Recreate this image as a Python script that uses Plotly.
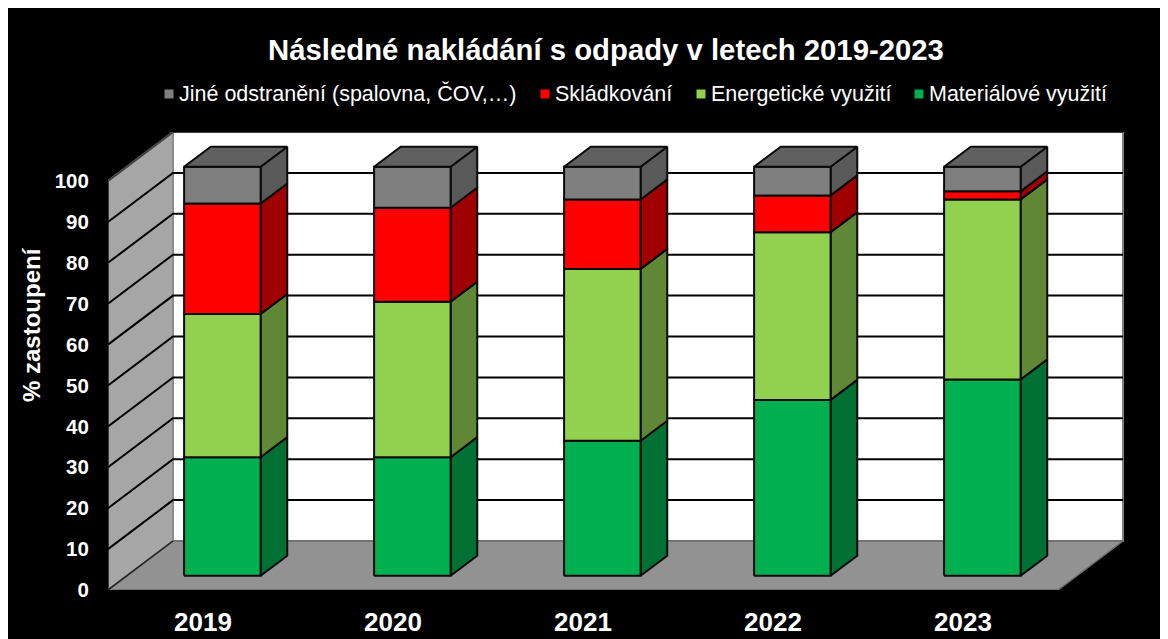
import plotly.graph_objects as go

years = ["2019", "2020", "2021", "2022", "2023"]
series_names = ["Materiálové využití", "Energetické využití", "Skládkování", "Jiné odstranění (spalovna, ČOV,…)"]
material = [29, 29, 33, 43, 48]
energy = [35, 38, 42, 41, 44]
landfill = [27, 23, 17, 9, 2]
other = [9, 10, 8, 7, 6]
y_ticks = list(range(0, 101, 10))

front_colors = ["#00B050", "#92D050", "#FF0000", "#7F7F7F"]
side_colors = ["#007033", "#5F8735", "#A00000", "#595959"]
top_color = "#606060"
EDGE = "#0A0A0A"

W, H, OFF = 1168, 639, 8
L, R, T, B = 108, 1124, 132, 590
PX_PER_CAT = 190.0
PX_PER_UNIT = 4.09
DX = 65 / PX_PER_CAT   # depth offset in category units
DY = 49 / PX_PER_UNIT  # depth offset in value units
X_MIN = -0.5
X_MAX = X_MIN + (R - L) / PX_PER_CAT
Y_MAX = (B - T) / PX_PER_UNIT
Z1, Z2 = 0.29, 0.70
BAR_W = 76.5 / PX_PER_CAT
BAR_SHIFT = 0.5 / PX_PER_CAT


def proj(x, v, z):
    return x + z * DX, v + z * DY


fig = go.Figure()


def poly(points, fill, line=EDGE, width=2, name=None):
    pts = list(points) + [points[0]]
    fig.add_trace(go.Scatter(
        x=[p[0] for p in pts], y=[p[1] for p in pts], mode="lines",
        fill="toself", fillcolor=fill, line=dict(color=line, width=width),
        hoverinfo="skip" if name is None else "name", name=name or "", showlegend=False))


def seg(points, color, width=2):
    fig.add_trace(go.Scatter(
        x=[p[0] for p in points], y=[p[1] for p in points], mode="lines",
        line=dict(color=color, width=width), hoverinfo="skip", showlegend=False))


x0, x1 = X_MIN, X_MIN + 5
# back wall, left wall, floor
poly([proj(x0, 0, 1), proj(x1, 0, 1), proj(x1, 100, 1), proj(x0, 100, 1)], "#FFFFFF", "#7F7F7F", 2)
poly([proj(x0, 0, 0), proj(x0, 0, 1), proj(x0, 100, 1), proj(x0, 100, 0)], "#A6A6A6", "#8C8C8C", 2)
poly([proj(x0, 0, 0), proj(x1, 0, 0), proj(x1, 0, 1), proj(x0, 0, 1)], "#929292", "#6E6E6E", 1.5)
seg([proj(x0, 100, 0), proj(x0, 100, 1), proj(x1, 100, 1)], "#404040", 2)
seg([proj(x0, 0, 0), proj(x0, 100, 0)], "#202020", 1.5)
seg([proj(x0, 0, 0), proj(x0, 0, 1)], "#202020", 1.5)

# gridlines
for t in y_ticks[1:-1]:
    seg([proj(x0, t, 0), proj(x0, t, 1), proj(x1, t, 1)], "#000000", 2)

# stacked 3D columns
stacks = [material, energy, landfill, other]
for i in range(len(years)):
    xa, xb = i + BAR_SHIFT - BAR_W / 2, i + BAR_SHIFT + BAR_W / 2
    base = 0
    for s, vals in enumerate(stacks):
        top = base + vals[i]
        # side face
        poly([proj(xb, base, Z1), proj(xb, base, Z2), proj(xb, top, Z2), proj(xb, top, Z1)],
             side_colors[s])
        # front face
        poly([proj(xa, base, Z1), proj(xb, base, Z1), proj(xb, top, Z1), proj(xa, top, Z1)],
             front_colors[s], name=series_names[s])
        base = top
    poly([proj(xa, base, Z1), proj(xb, base, Z1), proj(xb, base, Z2), proj(xa, base, Z2)], top_color)


def px(x):
    return (x - L) / (R - L)


def py(y):
    return (B - y) / (B - T)


annotations = [dict(text="<b>% zastoupení</b>", x=px(31), y=py(325), xref="paper", yref="paper", showarrow=False,
                    xanchor="center", yanchor="middle",
                    textangle=-90, font=dict(size=24, color="white", family="Liberation Sans"))]
shapes = []
legend_items = [(169, 176.5, 3), (545, 553, 2), (701, 709, 1), (919, 927, 0)]
for mx, tx, s in legend_items:
    annotations.append(dict(text=series_names[s], x=px(tx), y=py(94), xref="paper", yref="paper",
                            xanchor="left", yanchor="middle", showarrow=False,
                            font=dict(size=21.5, color="white", family="Liberation Sans")))
    shapes.append(dict(type="rect", xref="paper", yref="paper", x0=px(mx - 4.5), x1=px(mx + 4.5),
                       y0=py(89.5), y1=py(98.5), fillcolor=front_colors[s], line=dict(width=0)))

fig.update_layout(
    width=W - OFF, height=H - OFF,
    margin=dict(l=L - OFF, r=W - R, t=T - OFF, b=H - B),
    paper_bgcolor="#000000", plot_bgcolor="#000000",
    showlegend=False,
    title=dict(text="<b>Následné nakládání s odpady v letech 2019-2023</b>", x=(606 - OFF) / (W - OFF),
               y=1 - (50 - OFF) / (H - OFF), xref="container", xanchor="center", yanchor="middle",
               font=dict(size=29.3, color="white", family="Liberation Sans")),
    xaxis=dict(range=[X_MIN, X_MAX], tickvals=list(range(len(years))), ticktext=[f"<b>{y}</b>" for y in years],
               showgrid=False, zeroline=False, showline=False, ticks="outside", ticklen=9, tickcolor="#000000",
               automargin=False,
               tickfont=dict(size=26, color="white", family="Liberation Sans"), fixedrange=True),
    yaxis=dict(range=[0, Y_MAX], tickvals=y_ticks, ticktext=[f"<b>{t}</b>" for t in y_ticks],
               showgrid=False, zeroline=False, showline=False, ticks="outside", ticklen=14, tickcolor="#000000",
               automargin=False,
               tickfont=dict(size=20.5, color="white", family="Liberation Sans"), fixedrange=True),
    annotations=annotations, shapes=shapes,
)
fig.write_html("out.html", config={"displayModeBar": False})
